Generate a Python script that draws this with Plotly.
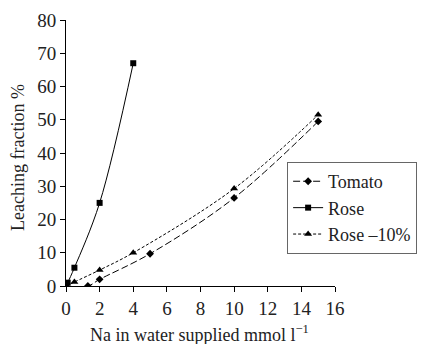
import plotly.graph_objects as go

tomato_x = [0, 1.3, 2, 5, 10, 15]
tomato_y = [0, 0, 2, 9.7, 26.5, 49.5]
rose_x = [0, 0.1, 0.5, 2, 4]
rose_y = [0, 1, 5.5, 25, 67]
rose10_x = [0, 0.5, 2, 4, 10, 15]
rose10_y = [0, 1.2, 4.8, 10, 29.3, 51.5]

FONT = "Liberation Serif"

fig = go.Figure()
fig.add_trace(go.Scatter(x=tomato_x, y=tomato_y, name="Tomato", mode="lines+markers",
                         line=dict(color="black", width=1, dash="7px,3px", shape="spline"),
                         marker=dict(symbol="diamond", size=6, color="black")))
fig.add_trace(go.Scatter(x=rose_x, y=rose_y, name="Rose", mode="lines+markers",
                         line=dict(color="black", width=1, shape="spline"),
                         marker=dict(symbol="square", size=6, color="black")))
fig.add_trace(go.Scatter(x=rose10_x, y=rose10_y, name="Rose \u201310%", mode="lines+markers",
                         line=dict(color="black", width=1, dash="3px,2px", shape="spline"),
                         marker=dict(symbol="triangle-up", size=7, color="black")))

fig.update_layout(
    width=420, height=336,
    margin=dict(l=58, r=93, t=12, b=58, autoexpand=False),
    paper_bgcolor="white", plot_bgcolor="white",
    font=dict(family=FONT, size=19, color="#222"),
    showlegend=True,
    legend=dict(x=0.822, y=0.466, xanchor="left", yanchor="top",
                bordercolor="#666", borderwidth=1, bgcolor="white",
                font=dict(family=FONT, size=18), tracegroupgap=0,
                itemwidth=30),
    xaxis=dict(range=[0, 16], tickvals=list(range(0, 17, 2)), showgrid=False, zeroline=False,
               showline=True, linecolor="black", linewidth=1, ticks="outside", ticklen=5,
               tickcolor="black", automargin=False),
    yaxis=dict(range=[0, 80], tickvals=list(range(0, 81, 10)), showgrid=False, zeroline=False,
               showline=True, linecolor="black", linewidth=1, ticks="outside", ticklen=5,
               tickcolor="black", automargin=False),
    annotations=[
        dict(text="Na in water supplied mmol l<sup>\u22121</sup>", xref="paper", yref="paper",
             x=(191 - 58) / 269, y=(278 - 325) / 266, xanchor="center", yanchor="middle",
             showarrow=False, font=dict(family=FONT, size=18, color="#222")),
        dict(text="Leaching fraction %", xref="paper", yref="paper", textangle=-90,
             x=(10 - 58) / 269, y=(278 - 150) / 266, xanchor="center", yanchor="middle",
             showarrow=False, font=dict(family=FONT, size=18, color="#222")),
    ],
)
fig.write_html("out.html")
